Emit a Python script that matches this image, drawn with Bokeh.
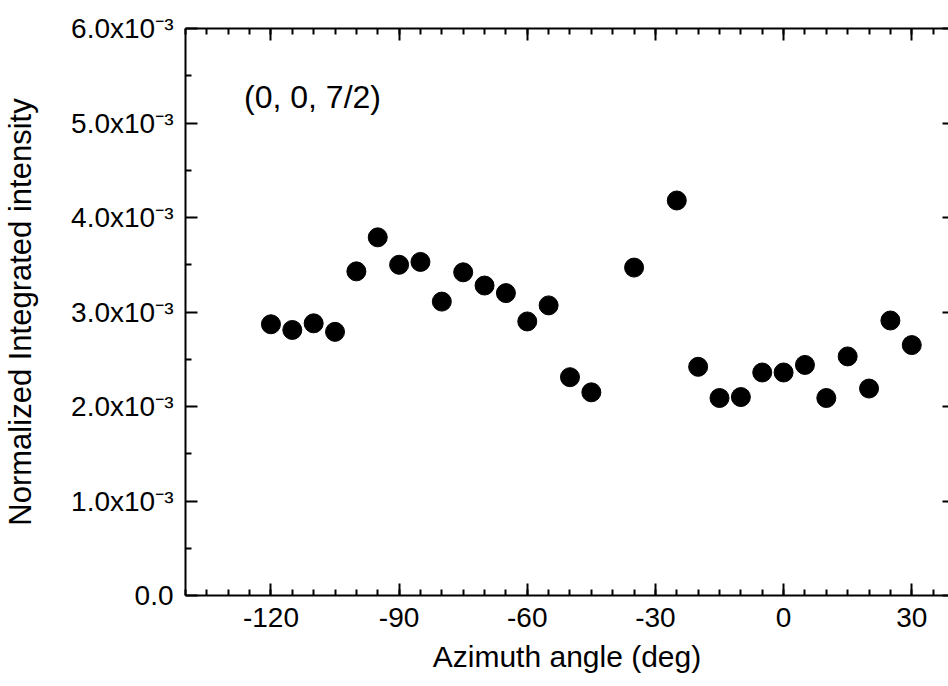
from bokeh.plotting import figure
from bokeh.models import LinearAxis, FixedTicker, Label, Range1d
from bokeh.embed import file_html
from bokeh.resources import INLINE

# ---- data ----
angles = [-120, -115, -110, -105, -100, -95, -90, -85, -80, -75, -70, -65, -60, -55,
          -50, -45, -35, -25, -20, -15, -10, -5, 0, 5, 10, 15, 20, 25, 30]
intensity_e3 = [2.87, 2.81, 2.88, 2.79, 3.43, 3.79, 3.50, 3.53, 3.11, 3.42, 3.28, 3.20, 2.90, 3.07,
                2.31, 2.15, 3.47, 4.18, 2.42, 2.09, 2.10, 2.36, 2.36, 2.44, 2.09, 2.53, 2.19, 2.91, 2.65]
intensity = [v * 1e-3 for v in intensity_e3]

x_major = [-120, -90, -60, -30, 0, 30]
x_labels = ["-120", "-90", "-60", "-30", "0", "30"]
x_minor = list(range(-140, 40, 5))
y_major = [0.0, 0.001, 0.002, 0.003, 0.004, 0.005, 0.006]
y_minor = [0.0005, 0.0015, 0.0025, 0.0035, 0.0045, 0.0055]
y_labels = ["0.0", "1.0x10\u207b\u00b3", "2.0x10\u207b\u00b3", "3.0x10\u207b\u00b3",
            "4.0x10\u207b\u00b3", "5.0x10\u207b\u00b3", "6.0x10\u207b\u00b3"]
annotation = "(0, 0, 7/2)"
x_title = "Azimuth angle (deg)"
y_title = "Normalized Integrated intensity"

FONT = "Liberation Sans"
TICK_FS = "28px"

p = figure(width=948, height=686, output_backend="svg", toolbar_location=None,
           x_range=Range1d(-140, 38.6), y_range=Range1d(0, 0.006),
           x_axis_location=None, y_axis_location=None,
           min_border_left=185, min_border_top=28, min_border_right=0, min_border_bottom=91)
p.outline_line_color = None
p.xgrid.visible = False
p.ygrid.visible = False
p.background_fill_color = "white"
p.border_fill_color = "white"

xt = FixedTicker(ticks=x_major, minor_ticks=x_minor)
yt = FixedTicker(ticks=y_major, minor_ticks=y_minor)


def style(ax, labels, title_fs="30px", line=True):
    ax.axis_line_width = 2
    ax.axis_line_color = "black" if line else None
    ax.major_tick_line_width = 2
    ax.minor_tick_line_width = 2
    ax.major_tick_out = 0
    ax.minor_tick_out = 0
    ax.major_tick_in = 12
    ax.minor_tick_in = 6
    ax.major_label_text_font = FONT
    ax.major_label_text_font_size = TICK_FS
    ax.axis_label_text_font = FONT
    ax.axis_label_text_font_style = "normal"
    ax.axis_label_text_font_size = title_fs
    ax.axis_label_text_color = "black"
    ax.major_label_text_color = "black"
    ax.major_label_overrides = labels


bottom = LinearAxis(ticker=xt, axis_label=x_title)
style(bottom, {v: s for v, s in zip(x_major, x_labels)}, "30px")
bottom.major_label_standoff = 12
bottom.axis_label_standoff = 10
p.add_layout(bottom, "below")

left = LinearAxis(ticker=yt, axis_label=y_title)
style(left, {v: s for v, s in zip(y_major, y_labels)}, "31px")
left.major_label_standoff = 12
left.axis_label_standoff = 30
p.add_layout(left, "left")

top = LinearAxis(ticker=xt)
style(top, {v: "" for v in x_major})
top.major_label_standoff = 0
p.add_layout(top, "above")

right = LinearAxis(ticker=yt)
style(right, {v: "" for v in y_major}, line=False)
right.major_label_standoff = 0
right.major_tick_in = 6
right.minor_tick_in = 0
p.add_layout(right, "right")

p.scatter(angles, intensity, size=19, color="black", marker="circle")

p.add_layout(Label(x=-126.3, y=0.00527, text=annotation, text_font=FONT,
                   text_font_size="32px", text_baseline="middle", text_color="black"))

open("out.html", "w").write(file_html(p, INLINE))
